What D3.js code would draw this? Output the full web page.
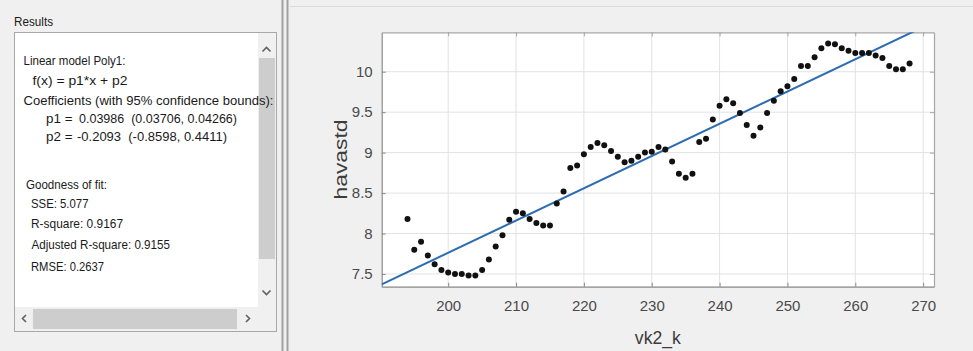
<!DOCTYPE html>
<html>
<head>
<meta charset="utf-8">
<script src="https://cdn.jsdelivr.net/npm/d3@7"></script>
<style>
  html, body { margin: 0; padding: 0; background: #f0f0f0; }
  svg { display: block; font-family: "Liberation Sans", Arial, sans-serif; }
  text.res { white-space: pre; }
</style>
</head>
<body>
<svg id="view" width="973" height="351"></svg>
<script>
// Observations: vk2_k (x) and havastd (y)
const vk2k = [194, 195, 196, 197, 198, 199, 200, 201, 202, 203, 204, 205, 206, 207, 208,
  209, 210, 211, 212, 213, 214, 215, 216, 217, 218, 219, 220, 221, 222, 223, 224, 225,
  226, 227, 228, 229, 230, 231, 232, 233, 234, 235, 236, 237, 238, 239, 240, 241, 242,
  243, 244, 245, 246, 247, 248, 249, 250, 251, 252, 253, 254, 255, 256, 257, 258, 259,
  260, 261, 262, 263, 264, 265, 266, 267, 268];
const havastd = [8.18, 7.80, 7.90, 7.73, 7.62, 7.55, 7.52, 7.50, 7.50, 7.48, 7.48, 7.55,
  7.68, 7.84, 7.98, 8.17, 8.27, 8.25, 8.18, 8.13, 8.10, 8.10, 8.37, 8.52, 8.81, 8.84,
  8.98, 9.07, 9.12, 9.09, 9.02, 8.95, 8.88, 8.90, 8.95, 9.00, 9.01, 9.07, 9.04, 8.89,
  8.74, 8.69, 8.74, 9.13, 9.17, 9.41, 9.58, 9.66, 9.61, 9.49, 9.34, 9.21, 9.31, 9.49,
  9.64, 9.76, 9.82, 9.91, 10.07, 10.07, 10.18, 10.29, 10.35, 10.34, 10.29, 10.26, 10.23,
  10.23, 10.23, 10.20, 10.17, 10.07, 10.03, 10.03, 10.10];

// Fitted linear model f(x) = p1*x + p2
const p1 = 0.03986;
const p2 = -0.2093;

// Axis settings
const xTicks = [200, 210, 220, 230, 240, 250, 260, 270];
const yTicks = [7.5, 8, 8.5, 9, 9.5, 10];
const xLimits = [190.2, 271.6];
const yLimits = [7.343, 10.487];

// Results panel text: [text, x, baseline, width]
const resultLines = [
  ["Linear model Poly1:", 23.5, 64.5, 102],
  ["f(x) = p1*x + p2", 32.5, 84.5, 95],
  ["Coefficients (with 95% confidence bounds):", 23.5, 104.5, 250],
  ["p1 =", 46, 122.5, 26.5],
  ["0.03986  (0.03706, 0.04266)", 79, 122.5, 158],
  ["p2 =", 46, 140.5, 26.5],
  ["-0.2093  (-0.8598, 0.4411)", 77, 140.5, 150],
  ["Goodness of fit:", 26, 188.5, 81],
  ["SSE: 5.077", 31, 207.5, 57.5],
  ["R-square: 0.9167", 31, 227.5, 92],
  ["Adjusted R-square: 0.9155", 31.5, 249, 138.5],
  ["RMSE: 0.2637", 31, 270.5, 73]
];

const svg = d3.select("#view");

// ---------- Results panel ----------
const panel = svg.append("g");
panel.append("text").attr("x", 14).attr("y", 26).attr("font-size", 13)
  .attr("fill", "#1a1a1a").attr("textLength", 39).attr("lengthAdjust", "spacingAndGlyphs")
  .text("Results");

panel.append("rect").attr("x", 14.5).attr("y", 32.5).attr("width", 262).attr("height", 299)
  .attr("fill", "#ffffff").attr("stroke", "#a8a8a8");

// vertical scrollbar
panel.append("rect").attr("x", 258).attr("y", 33).attr("width", 18).attr("height", 274).attr("fill", "#f0f0f0");
panel.append("rect").attr("x", 259).attr("y", 58).attr("width", 16).attr("height", 201).attr("fill", "#cdcdcd");
panel.append("path").attr("d", "M262.5,51.5 L266.5,47.5 L270.5,51.5")
  .attr("fill", "none").attr("stroke", "#606060").attr("stroke-width", 1.6);
panel.append("path").attr("d", "M262.5,290.5 L266.5,294.5 L270.5,290.5")
  .attr("fill", "none").attr("stroke", "#606060").attr("stroke-width", 1.6);

// horizontal scrollbar
panel.append("rect").attr("x", 15).attr("y", 307).attr("width", 261).attr("height", 24).attr("fill", "#f0f0f0");
panel.append("rect").attr("x", 33).attr("y", 309).attr("width", 204).attr("height", 20).attr("fill", "#cdcdcd");
panel.append("path").attr("d", "M26,315 L22.5,318.5 L26,322")
  .attr("fill", "none").attr("stroke", "#606060").attr("stroke-width", 1.6);
panel.append("path").attr("d", "M246,315 L249.5,318.5 L246,322")
  .attr("fill", "none").attr("stroke", "#606060").attr("stroke-width", 1.6);

panel.selectAll("text.res").data(resultLines).join("text")
  .attr("class", "res")
  .attr("x", d => d[1]).attr("y", d => d[2])
  .attr("font-size", 13).attr("fill", "#1a1a1a")
  .attr("textLength", d => d[3]).attr("lengthAdjust", "spacingAndGlyphs")
  .text(d => d[0]);

// splitter between the panels
svg.append("rect").attr("x", 281.5).attr("y", 0).attr("width", 2).attr("height", 351).attr("fill", "#a0a0a0");
svg.append("rect").attr("x", 286.5).attr("y", 0).attr("width", 2).attr("height", 351).attr("fill", "#a0a0a0");
svg.append("line").attr("x1", 290).attr("x2", 973).attr("y1", 6.5).attr("y2", 6.5)
  .attr("stroke", "#dadada");

// ---------- Plot ----------
const x = d3.scaleLinear().domain(xLimits).range([381.7, 934]);
const y = d3.scaleLinear().domain(yLimits).range([286.7, 32.3]);
const [x0, x1] = x.range();
const [yb, yt] = y.range();

svg.append("rect").attr("x", x0).attr("y", yt).attr("width", x1 - x0).attr("height", yb - yt)
  .attr("fill", "#ffffff");

svg.append("defs").append("clipPath").attr("id", "plotClip")
  .append("rect").attr("x", x0).attr("y", yt).attr("width", x1 - x0).attr("height", yb - yt);

// grid
const grid = svg.append("g").attr("stroke", "#e2e2e2").attr("stroke-width", 1);
grid.selectAll("line.gx").data(xTicks).join("line")
  .attr("x1", d => x(d)).attr("x2", d => x(d)).attr("y1", yt).attr("y2", yb);
grid.selectAll("line.gy").data(yTicks).join("line")
  .attr("x1", x0).attr("x2", x1).attr("y1", d => y(d)).attr("y2", d => y(d));

// axes
function styleAxis(g, color) {
  g.select(".domain").attr("stroke", color).attr("stroke-width", 1.2);
  g.selectAll(".tick line").attr("stroke", color).attr("stroke-width", 1);
  g.selectAll(".tick text").attr("fill", "#4a4a4a").attr("font-size", 15)
    .attr("font-family", "\"Liberation Sans\", Arial, sans-serif");
}

svg.append("g").attr("transform", `translate(0,${yt})`)
  .call(d3.axisTop(x).tickValues(xTicks).tickSize(-4).tickSizeOuter(0).tickFormat(""))
  .call(g => styleAxis(g, "#a6a6a6"));
svg.append("g").attr("transform", `translate(${x1},0)`)
  .call(d3.axisRight(y).tickValues(yTicks).tickSize(-4).tickSizeOuter(0).tickFormat(""))
  .call(g => styleAxis(g, "#a6a6a6"));

svg.append("g").attr("transform", `translate(0,${yb})`)
  .call(d3.axisBottom(x).tickValues(xTicks).tickSize(-4).tickSizeOuter(0).tickPadding(14).tickFormat(d3.format("d")))
  .call(g => styleAxis(g, "#8a8a8a"))
  .call(g => g.selectAll(".tick text").attr("dy", "0.71em"));
svg.append("g").attr("transform", `translate(${x0},0)`)
  .call(d3.axisLeft(y).tickValues(yTicks).tickSize(-4).tickSizeOuter(0).tickPadding(9).tickFormat(d3.format("")))
  .call(g => styleAxis(g, "#8a8a8a"));

// fitted line
svg.append("line").attr("clip-path", "url(#plotClip)")
  .attr("x1", x(xLimits[0])).attr("y1", y(p1 * xLimits[0] + p2))
  .attr("x2", x(xLimits[1])).attr("y2", y(p1 * xLimits[1] + p2))
  .attr("stroke", "#2d6cb0").attr("stroke-width", 2);

// data points
svg.append("g").selectAll("circle").data(vk2k).join("circle")
  .attr("cx", d => x(d)).attr("cy", (d, i) => y(havastd[i]))
  .attr("r", 3).attr("fill", "#111111");

// axis titles
svg.append("text").attr("x", (x0 + x1) / 2).attr("y", 344)
  .attr("text-anchor", "middle").attr("font-size", 19).attr("fill", "#3c3c3c")
  .attr("textLength", 46).attr("lengthAdjust", "spacingAndGlyphs")
  .text("vk2_k");
svg.append("text").attr("transform", `translate(347,${(yt + yb) / 2}) rotate(-90)`)
  .attr("text-anchor", "middle").attr("font-size", 19).attr("fill", "#3c3c3c")
  .attr("textLength", 80).attr("lengthAdjust", "spacingAndGlyphs")
  .text("havastd");
</script>
</body>
</html>
